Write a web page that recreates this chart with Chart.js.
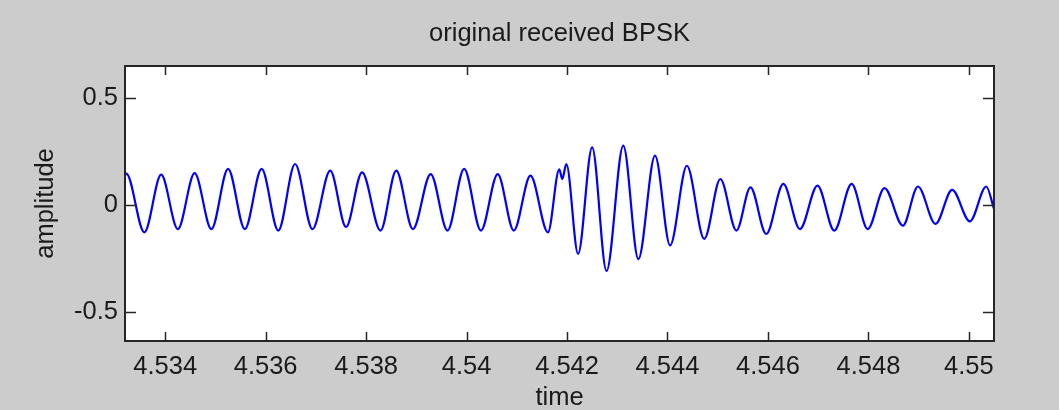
<!DOCTYPE html>
<html>
<head>
<meta charset="utf-8">
<script src="https://cdn.jsdelivr.net/npm/chart.js@4"></script>
<style>
  html, body { margin: 0; padding: 0; background: #cccccc; overflow: hidden; }
  canvas { display: block; }
</style>
</head>
<body>
<canvas id="bpskChart" width="1059" height="410"></canvas>
<script>
// samples (peaks / troughs of the received waveform)
const times = [4.533186, 4.533226, 4.533586, 4.53392, 4.534252, 4.534586, 4.53492, 4.535252, 4.535586, 4.53592,
  4.536252, 4.536586, 4.536932, 4.537286, 4.5376, 4.53792, 4.538286, 4.5386, 4.538932, 4.539286,
  4.53962, 4.539952, 4.540286, 4.54062, 4.54094, 4.541272, 4.54162, 4.541846, 4.541906, 4.541986,
  4.54222, 4.5425, 4.542786, 4.54312, 4.54342, 4.543752, 4.544052, 4.544386, 4.544732, 4.545052,
  4.545372, 4.545652, 4.545966, 4.546306, 4.546636, 4.546986, 4.54732, 4.547666, 4.547986, 4.54832,
  4.548686, 4.548986, 4.549336, 4.549666, 4.55002, 4.550346, 4.5505];
const amps = [0.13, 0.145, -0.129, 0.140, -0.114, 0.147, -0.114, 0.167, -0.114, 0.167,
  -0.121, 0.19, -0.114, 0.159, -0.104, 0.151, -0.121, 0.159, -0.114, 0.143,
  -0.121, 0.167, -0.121, 0.143, -0.121, 0.136, -0.129, 0.165, 0.12, 0.19,
  -0.23, 0.268, -0.31, 0.276, -0.254, 0.229, -0.19, 0.182, -0.16, 0.12,
  -0.121, 0.081, -0.137, 0.097, -0.114, 0.089, -0.121, 0.097, -0.114, 0.077,
  -0.098, 0.085, -0.09, 0.069, -0.078, 0.085, -0.02];

const xTicks = [4.534, 4.536, 4.538, 4.54, 4.542, 4.544, 4.546, 4.548, 4.55];
const yTicks = [-0.5, 0, 0.5];

const FONT = "'Liberation Sans', Arial, sans-serif";
const TEXT = '#1a1a1a';
const SIZE = 25.5;

// white axes box, frame and inward ticks like a matlab figure
const matlabAxes = {
    id: 'matlabAxes',
    beforeDraw(chart) {
        const { ctx, chartArea: a } = chart;
        ctx.save();
        ctx.fillStyle = '#ffffff';
        ctx.fillRect(a.left, a.top, a.right - a.left, a.bottom - a.top);
        ctx.restore();
    },
    afterDatasetsDraw(chart) {
        const { ctx, chartArea: a, scales: { x, y } } = chart;
        ctx.save();
        ctx.strokeStyle = '#262626';
        ctx.lineWidth = 1.5;
        ctx.beginPath();
        xTicks.forEach(v => {
            const px = Math.round(x.getPixelForValue(v)) + 0.5;
            ctx.moveTo(px, a.bottom); ctx.lineTo(px, a.bottom - 9);
            ctx.moveTo(px, a.top); ctx.lineTo(px, a.top + 9);
        });
        yTicks.forEach(v => {
            const py = Math.round(y.getPixelForValue(v)) + 0.5;
            ctx.moveTo(a.left, py); ctx.lineTo(a.left + 11, py);
            ctx.moveTo(a.right, py); ctx.lineTo(a.right - 11, py);
        });
        ctx.stroke();
        ctx.lineWidth = 2;
        ctx.strokeRect(a.left, a.top, a.right - a.left, a.bottom - a.top);
        ctx.restore();
    }
};

new Chart(document.getElementById('bpskChart'), {
    type: 'line',
    data: {
        datasets: [{
            data: times.map((t, i) => ({ x: t, y: amps[i] })),
            borderColor: '#0000ff',
            borderWidth: 2.2,
            pointRadius: 0,
            cubicInterpolationMode: 'monotone',
            fill: false
        }]
    },
    options: {
        responsive: false,
        animation: false,
        layout: { padding: { left: 0, right: 65, top: 0, bottom: 0 } },
        plugins: {
            legend: { display: false },
            tooltip: { enabled: false },
            title: {
                display: true,
                fullSize: false,
                text: 'original received BPSK',
                color: TEXT,
                font: { family: FONT, size: SIZE, weight: 'normal', lineHeight: 1.2 },
                padding: { top: 19, bottom: 16.4 }
            }
        },
        scales: {
            x: {
                type: 'linear',
                min: 4.5332,
                max: 4.5505,
                grid: { display: false },
                border: { display: false },
                afterBuildTicks: s => { s.ticks = xTicks.map(v => ({ value: v })); },
                afterFit: s => { s.height = 69; },
                ticks: {
                    autoSkip: false,
                    maxRotation: 0,
                    padding: 3,
                    color: TEXT,
                    font: { family: FONT, size: SIZE },
                    callback: v => String(v)
                },
                title: {
                    display: true,
                    text: 'time',
                    color: TEXT,
                    font: { family: FONT, size: SIZE, lineHeight: 1 },
                    padding: { top: 0, bottom: -1 }
                }
            },
            y: {
                min: -0.637,
                max: 0.648,
                grid: { display: false },
                border: { display: false },
                afterBuildTicks: s => { s.ticks = yTicks.map(v => ({ value: v })); },
                afterFit: s => { s.width = 125; },
                ticks: {
                    padding: -1,
                    color: TEXT,
                    font: { family: FONT, size: SIZE },
                    callback: v => String(v)
                },
                title: {
                    display: true,
                    text: 'amplitude',
                    color: TEXT,
                    font: { family: FONT, size: SIZE, lineHeight: 1 },
                    padding: { top: 33, bottom: 0 }
                }
            }
        }
    },
    plugins: [matlabAxes]
});
</script>
</body>
</html>
